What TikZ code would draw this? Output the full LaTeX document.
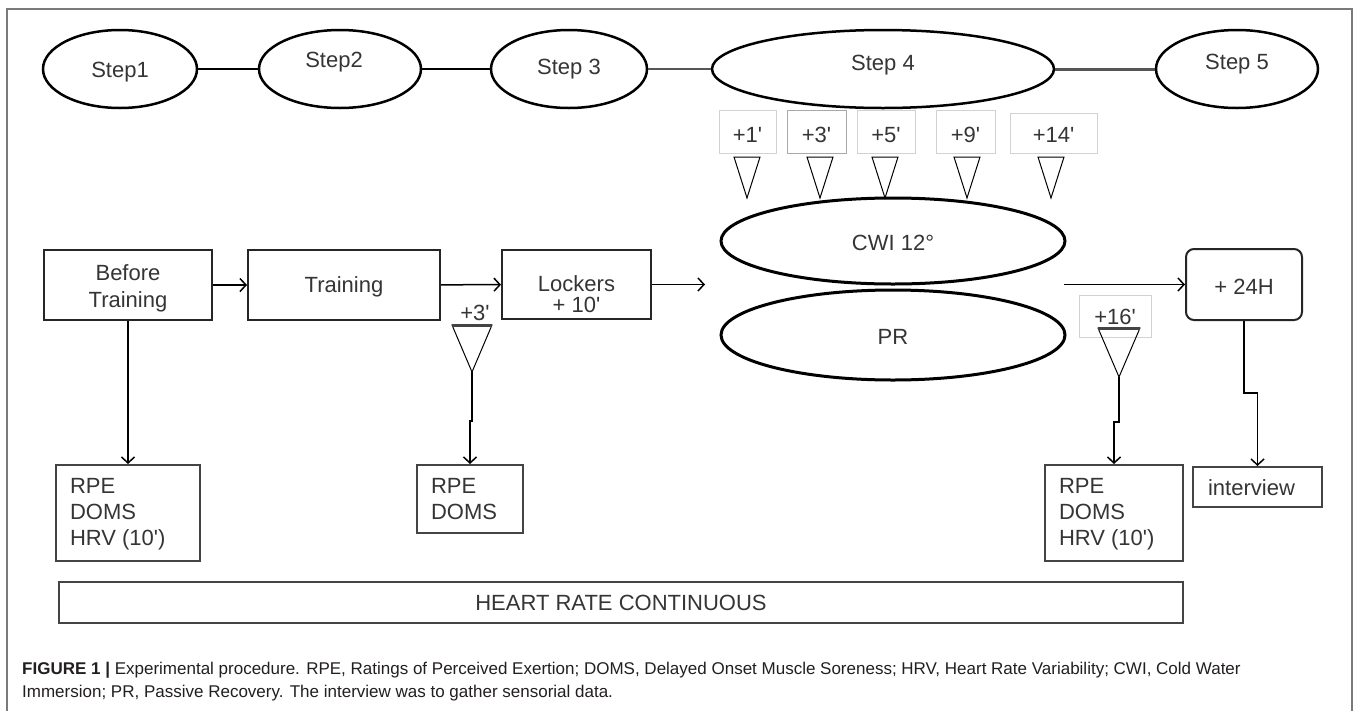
\documentclass[tikz,border=0pt]{standalone}
\usepackage{fontspec}
\setmainfont{Liberation Sans}
\newfontfamily\dfont{Liberation Sans}
\usetikzlibrary{arrows.meta,shapes.geometric}
\definecolor{txt}{HTML}{353535}
\definecolor{boxc}{HTML}{262626}
\definecolor{gboxc}{HTML}{444444}
\definecolor{faint}{HTML}{D2D2D2}
\definecolor{faintb}{HTML}{A8A8A8}
\definecolor{framec}{HTML}{7A7A7A}
\definecolor{capc}{HTML}{231F20}
\definecolor{linkg}{HTML}{555555}
\newcommand{\rtxt}[2]{\raisebox{#1}[0pt][0pt]{#2}}
\newcommand{\mlines}[3]{\raisebox{#1}[0pt][0pt]{\renewcommand{\arraystretch}{#2}\begin{tabular}[b]{@{}c@{}}#3\end{tabular}}}
\newcommand{\llines}[3]{\raisebox{#1}[0pt][0pt]{\makebox[#2][l]{\begin{tabular}[b]{@{}l@{}}#3\end{tabular}}}}
\begin{document}
\begin{tikzpicture}[x=1pt,y=-1pt,
  every node/.style={text=txt, font=\dfont\fontsize{22}{26}\selectfont, inner sep=0pt},
  stepell/.style={ellipse, draw=black, line width=2.5pt},
  ovl/.style={ellipse, draw=black, line width=3pt},
  box/.style={rectangle, draw=boxc, line width=2pt},
  gbox/.style={rectangle, draw=gboxc, line width=2pt},
  tbox/.style={rectangle, draw=faint, line width=0.8pt},
  link/.style={draw=black, line width=1.5pt},
  arr/.style={draw=black, line width=1.5pt, -{Straight Barb[length=6pt,width=13pt]}},
  tri/.style={draw=black, line width=1pt, line join=miter},
  tritop/.style={draw=gboxc, line width=3pt},
]
\useasboundingbox (0,0) rectangle (1357,710);
\fill[white] (0,0) rectangle (1357,710);
\draw[draw=framec, line width=1.5pt] (7,715) -- (7,9) -- (1352,9) -- (1352,715);

% top row of steps
\node[stepell, minimum width=154pt, minimum height=78pt] (s1) at (120,69) {\rtxt{-8.5pt}{Step1}};
\node[stepell, minimum width=162pt, minimum height=78pt] (s2) at (340,69) {\rtxt{1.5pt}{Step2}\hspace*{12pt}};
\node[stepell, minimum width=156pt, minimum height=78pt] (s3) at (569,69) {\rtxt{-5.5pt}{Step 3}};
\node[stepell, minimum width=342pt, minimum height=78pt] (s4) at (883,69) {\rtxt{-1.5pt}{Step 4}};
\node[stepell, minimum width=162pt, minimum height=78pt] (s5) at (1237,69) {\rtxt{-0.5pt}{Step 5}};
\draw[link] (s1) -- (s2);
\draw[link] (s2) -- (s3);
\draw[link, draw=linkg, line width=2pt] (s3) -- (s4);
\draw[link, draw=linkg, line width=3pt] (s4) -- (s5);

% time markers under step 4
\node[tbox, minimum width=57pt, minimum height=43pt] (m1) at (747.5,131.5) {\rtxt{-11pt}{+1'}};
\node[tbox, draw=faintb, minimum width=59pt, minimum height=43pt] (m2) at (816.5,131.5) {\rtxt{-11pt}{+3'}};
\node[tbox, minimum width=58pt, minimum height=43pt] (m3) at (886,131.5) {\rtxt{-11pt}{+5'}};
\node[tbox, minimum width=59pt, minimum height=43pt] (m4) at (965.5,131.5) {\rtxt{-11pt}{+9'}};
\node[tbox, minimum width=87pt, minimum height=40pt] (m5) at (1053.5,133) {\rtxt{-9.5pt}{+14'}};
\foreach \x in {747,820,885,967,1051} {
  \draw[tri] (\x-13,157) -- (\x+13,157) -- (\x,198) -- cycle;
}

% recovery conditions
\node[ovl, minimum width=344pt, minimum height=86pt] (cwi) at (893,241) {\rtxt{-9.5pt}{CWI 12°}};
\node[ovl, minimum width=344pt, minimum height=90pt] (pr) at (893,335) {\rtxt{-9.5pt}{PR}};

% main row
\node[box, minimum width=168pt, minimum height=70pt] (bt) at (128,285) {\mlines{-22.5pt}{1.04}{Before\\Training}};
\node[box, minimum width=192pt, minimum height=70pt] (tr) at (344,285) {\rtxt{-7.5pt}{Training}};
\node[box, minimum width=149pt, minimum height=69pt] (lk) at (576.5,284.5) {\mlines{-28pt}{0.73}{Lockers\\+ 10'}};
\node[box, rounded corners=8pt, minimum width=116pt, minimum height=71pt] (h24) at (1244,284.5) {\rtxt{-10pt}{+ 24H}};
\coordinate (lkend) at (705,284.5);
\coordinate (h24in) at (1064,284.5);
\draw[arr] (bt) -- (tr);
\draw[arr] (tr) -- (lk);
\draw[arr] (lk) -- (lkend);
\draw[arr] (h24in) -- (h24);

% lower markers
\node (l3) at (475,313) {\rtxt{-7.5pt}{+3'}};
\coordinate (t3) at (472,372);
\draw[tri] (452,325) -- (492,325) -- (t3) -- cycle;
\draw[tritop] (452,325) -- (492,325);
\node[tbox, minimum width=72pt, minimum height=42pt] (l16) at (1115,316) {\rtxt{-8.5pt}{+16'}};
\coordinate (t16) at (1119,377);
\draw[tri] (1098,328) -- (1140,328) -- (t16) -- cycle;
\draw[tritop] (1098,328) -- (1140,328);

% measurement boxes
\node[gbox, minimum width=144pt, minimum height=96pt] (r1) at (128,513) {\llines{-32.5pt}{116pt}{RPE\\DOMS\\HRV (10')}};
\node[gbox, minimum width=106pt, minimum height=68pt] (r2) at (470,499) {\llines{-20.5pt}{78pt}{RPE\\DOMS}};
\node[gbox, minimum width=138pt, minimum height=96pt] (r3) at (1114,513) {\llines{-32.5pt}{110pt}{RPE\\DOMS\\HRV (10')}};
\node[gbox, minimum width=129pt, minimum height=40pt] (iv) at (1257.5,487) {\rtxt{-8.5pt}{interview}\hspace*{12pt}};
\node[gbox, minimum width=1124pt, minimum height=41pt] (hr) at (621,602.5) {\rtxt{-7.5pt}{HEART RATE CONTINUOUS}};

\draw[arr] (bt) -- (r1);
\draw[arr] (t3) -- ++(0,49) -| (r2.north);
\draw[arr] (t16) -- ++(0,45) -| (r3.north);
\draw[arr] (h24.south) -- ++(0,72) -| (iv.north);

% caption
\node[anchor=base west, text=capc, font=\fontsize{17}{23}\selectfont] (cap1) at (22,674) {\textbf{FIGURE 1 |} Experimental procedure. RPE, Ratings of Perceived Exertion; DOMS, Delayed Onset Muscle Soreness; HRV, Heart Rate Variability; CWI, Cold Water};
\node[anchor=base west, text=capc, font=\fontsize{17}{23}\selectfont] (cap2) at (22,697) {Immersion; PR, Passive Recovery. The interview was to gather sensorial data.};
\end{tikzpicture}
\end{document}
